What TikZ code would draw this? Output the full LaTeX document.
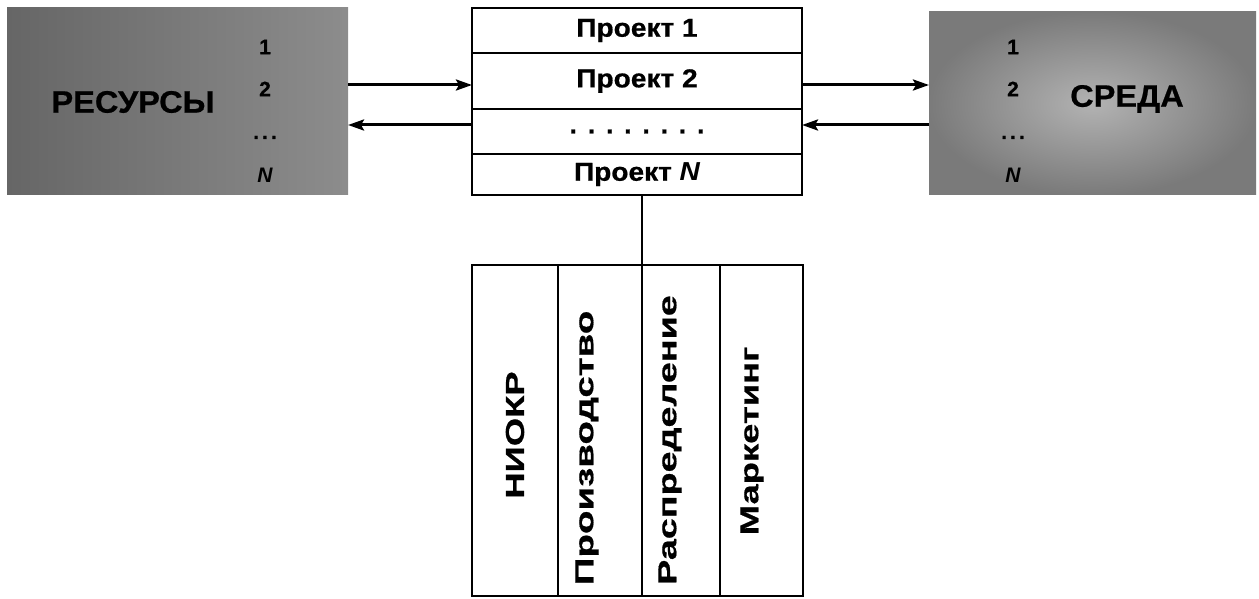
\documentclass[tikz,border=0pt]{standalone}
\usepackage{fontspec}
\setmainfont{Liberation Sans}[BoldFeatures={FakeBold=0.6}]
\usetikzlibrary{arrows.meta,calc}
\newcommand\dsep{\hspace{11pt}}
\begin{document}
\begin{tikzpicture}[x=1pt,y=-1pt,
  graybox/.style={inner sep=0pt,outer sep=0pt},
  rowbox/.style={draw,line width=2.8pt,minimum width=330pt,inner sep=0pt,outer sep=0pt},
  colbox/.style={draw,line width=2.8pt,minimum height=331pt,inner sep=0pt,outer sep=0pt},
  arr/.style={line width=3pt,-{Stealth[length=16pt,width=11pt,inset=3pt]}},
  big/.style={font=\bfseries\fontsize{31}{33}\selectfont},
  lbl/.style={font=\bfseries\fontsize{26}{28}\selectfont},
  num/.style={font=\bfseries\fontsize{21}{23}\selectfont},
  vlbl/.style={font=\bfseries\fontsize{26}{28}\selectfont,rotate=90,inner sep=0pt}
]
\useasboundingbox (0,0) rectangle (1259,599);
% gray boxes
\node[graybox,minimum width=341pt,minimum height=187pt,left color=black!60,right color=black!45] (res) at (177.5,101.5) {};
\node[graybox,minimum width=327pt,minimum height=183pt,inner color=black!30,outer color=black!52] (env) at (1092.5,103.5) {};
\node[big] (restxt) at (133,102) {\scalebox{1.05}[1]{РЕСУРСЫ}};
\node[big] (envtxt) at (1127,99) {\scalebox{1.05}[1]{СРЕДА}};
\foreach \n/\xx in {r/265,e/1013}{
  \node[num] (\n1) at (\xx,47) {1};
  \node[num] (\n2) at (\xx,89) {2};
  \node[num,anchor=base] (\n3) at (\xx,139) {.\hspace{3pt}.\hspace{3pt}.};
  \node[num] (\n4) at (\xx,175) {\itshape N};
}
% projects
\node[rowbox,minimum height=45pt,lbl] (p1) at (637,30.5) {\scalebox{1.08}[1]{Проект 1}};
\node[rowbox,minimum height=56pt,lbl] (p2) at (637,81) {\scalebox{1.08}[1]{Проект 2}};
\node[rowbox,minimum height=45pt,lbl] (p3) at (637,131.5) {.\dsep.\dsep.\dsep.\dsep.\dsep.\dsep.\dsep.};
\node[rowbox,minimum height=41pt,lbl] (p4) at (637,174.5) {\scalebox{1.08}[1]{Проект \itshape N}};
% arrows
\coordinate (ya) at (0,85);
\coordinate (yb) at (0,125);
\draw[arr] (res.east |- ya) -- (p2.west |- ya);
\draw[arr] (p3.west |- yb) -- (res.east |- yb);
\draw[arr] (p2.east |- ya) -- (env.west |- ya);
\draw[arr] (env.west |- yb) -- (p3.east |- yb);
% functions
\node[colbox,minimum width=86pt] (c1) at (515,430.5) {};
\node[colbox,minimum width=84pt] (c2) at (600,430.5) {};
\node[colbox,minimum width=78pt] (c3) at (681,430.5) {};
\node[colbox,minimum width=83pt] (c4) at (761.5,430.5) {};
\node[vlbl] (t1) at (515,435) {\scalebox{1.4}[1]{НИОКР}};
\node[vlbl] (t2) at (587,448) {\scalebox{1.48}[1]{Производство}};
\node[vlbl] (t3) at (670,440) {\scalebox{1.45}[1]{Распределение}};
\node[vlbl] (t4) at (752,441) {\scalebox{1.4}[1]{Маркетинг}};
\draw[line width=2.8pt] (c3.north west) -- (c3.north west |- p4.south);
\end{tikzpicture}
\end{document}
